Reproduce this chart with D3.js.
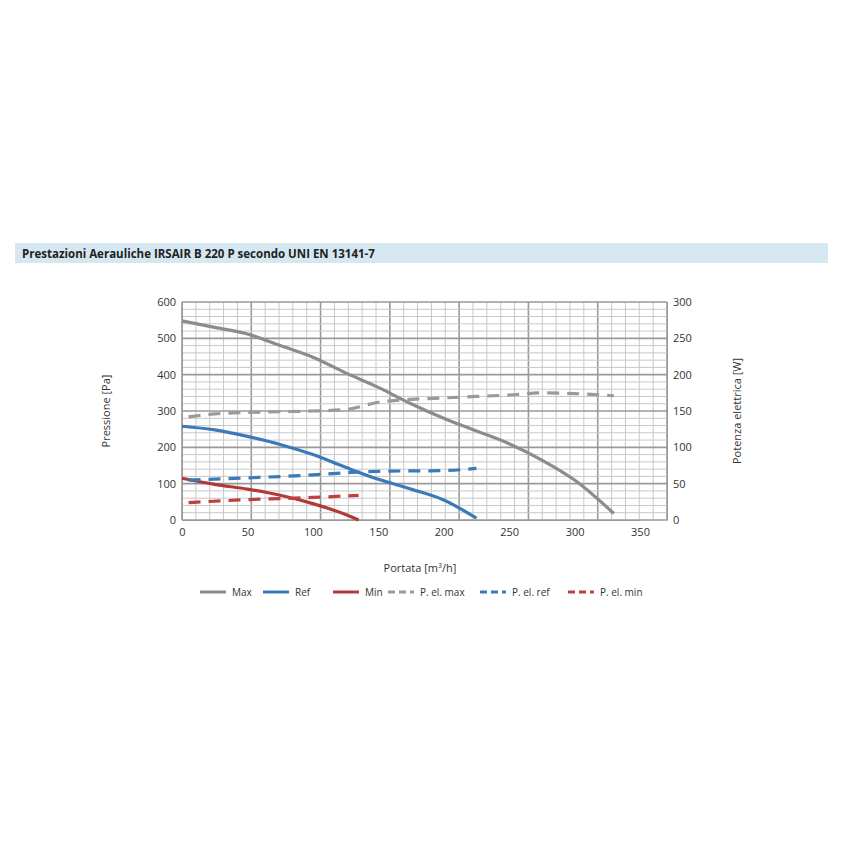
<!DOCTYPE html><html><head><meta charset="utf-8"><script src="https://d3js.org/d3.v7.min.js"></script>
<style>body{margin:0;background:#fff}text{font-family:"Open Sans",sans-serif}</style></head><body><script>
const maxX=[0,25,50,75,100,125,150,175,200,225,250,275,300,330], maxY=[548,530,512,480,448,405,365,320,280,245,210,165,110,18];
const refX=[0,25,50,75,100,125,150,175,200,225], refY=[258,248,230,208,180,145,112,85,55,5];
const minX=[0,25,50,75,100,125,135], minY=[115,98,85,68,45,15,0];
const pmaxX=[5,25,50,75,100,125,150,175,200,225,250,275,300,330], pmaxY=[142,146,148,149,150,152,162,166,168,170,172,175,174,171];
const prefX=[5,50,100,125,150,200,225], prefY=[55,58,62,65,67,68,71];
const pminX=[5,50,100,135], pminY=[24,28,31,34];
const xTicks=[0,50,100,150,200,250,300,350], yTicks=[0,100,200,300,400,500,600], y2Ticks=[0,50,100,150,200,250,300];
const W=850,H=850,L=182,R=667,T=302,B=520;
const svg=d3.select("body").append("svg").attr("width",W).attr("height",H);
svg.append("rect").attr("x",15).attr("y",243).attr("width",813).attr("height",20).attr("fill","#d5e8f1");
svg.append("text").attr("x",22).attr("y",258).attr("font-size",11.5).attr("font-weight","bold").attr("fill","#222").text("Prestazioni Aerauliche IRSAIR B 220 P secondo UNI EN 13141-7");
const x=d3.scaleLinear().domain([0,350]).range([L,640]);
const y=d3.scaleLinear().domain([0,600]).range([B,T]);
const y2=d3.scaleLinear().domain([0,300]).range([B,T]);
const gx=d3.scaleLinear().domain([0,35]).range([L,R]);
const gy=d3.scaleLinear().domain([0,30]).range([B,T]);
const g=svg.append("g");
d3.range(0,36).forEach(i=>g.append("line").attr("x1",gx(i)).attr("x2",gx(i)).attr("y1",T).attr("y2",B).attr("stroke",i%5==0?"#999":"#c8c8c8").attr("stroke-width",i%5==0?1.6:1));
d3.range(0,31).forEach(i=>g.append("line").attr("y1",gy(i)).attr("y2",gy(i)).attr("x1",L).attr("x2",R).attr("stroke",i%5==0?"#999":"#c8c8c8").attr("stroke-width",i%5==0?1.6:1));
const ax=svg.append("g").attr("transform",`translate(0,${B})`).call(d3.axisBottom(x).tickValues(xTicks).tickSize(0).tickPadding(8));
const ay=svg.append("g").attr("transform",`translate(${L},0)`).call(d3.axisLeft(y).tickValues(yTicks).tickSize(0).tickPadding(6));
const ay2=svg.append("g").attr("transform",`translate(${R},0)`).call(d3.axisRight(y2).tickValues(y2Ticks).tickSize(0).tickPadding(6));
[ax,ay,ay2].forEach(a=>{a.select(".domain").attr("stroke","#999");a.selectAll("text").attr("font-size",11).attr("fill","#333").attr("font-family","'Open Sans',sans-serif");});
svg.append("text").attr("x",420).attr("y",572).attr("text-anchor","middle").attr("font-size",11).attr("fill","#333").html('Portata [m<tspan baseline-shift="super" font-size="7">3</tspan>/h]');
svg.append("text").attr("transform",`translate(110,411) rotate(-90)`).attr("text-anchor","middle").attr("font-size",11).attr("fill","#333").text("Pressione [Pa]");
svg.append("text").attr("transform",`translate(741,411) rotate(-90)`).attr("text-anchor","middle").attr("font-size",11).attr("fill","#333").text("Potenza elettrica [W]");
const series=[
{n:"Max",X:maxX,Y:maxY,c:"#8c8c8c",d:false,s:y},
{n:"Ref",X:refX,Y:refY,c:"#3a7ab8",d:false,s:y},
{n:"Min",X:minX,Y:minY,c:"#b03a3a",d:false,s:y},
{n:"P. el. max",X:pmaxX,Y:pmaxY,c:"#9a9a9a",d:true,s:y2},
{n:"P. el. ref",X:prefX,Y:prefY,c:"#3a7ab8",d:true,s:y2},
{n:"P. el. min",X:pminX,Y:pminY,c:"#c04040",d:true,s:y2}];
series.forEach(sr=>{
 const line=d3.line().x(d=>x(d[0])).y(d=>sr.s(d[1])).curve(d3.curveMonotoneX);
 svg.append("path").attr("d",line(sr.X.map((v,i)=>[v,sr.Y[i]]))).attr("fill","none").attr("stroke",sr.c).attr("stroke-width",3.2).attr("stroke-dasharray",sr.d?"12,8":null);
});
const lx=[200,263,333,388,480,568];
series.forEach((sr,i)=>{
 svg.append("line").attr("x1",lx[i]).attr("x2",lx[i]+26).attr("y1",592).attr("y2",592).attr("stroke",sr.c).attr("stroke-width",3).attr("stroke-dasharray",sr.d?"7,4":null);
 svg.append("text").attr("x",lx[i]+32).attr("y",596).attr("font-size",10).attr("fill","#333").text(sr.n);
});
</script></body></html>
